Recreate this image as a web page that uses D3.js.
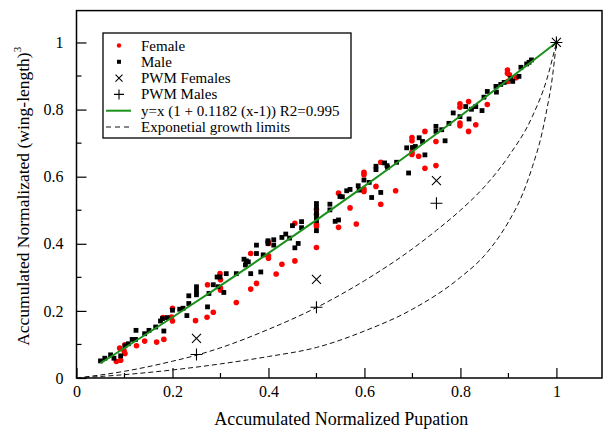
<!DOCTYPE html>
<html>
<head>
<meta charset="utf-8">
<script src="https://cdn.jsdelivr.net/npm/d3@7"></script>
<style>
  body { margin: 0; background: #fff; }
  text { font-family: "Liberation Serif", "Times New Roman", serif; fill: #000; }
</style>
</head>
<body>
<script>
// values

const femaleX = [0.083,0.092,0.090,0.099,0.101,0.101,0.125,0.142,0.167,0.182,0.180,0.198,0.200,0.200,
  0.248,0.272,0.285,0.273,0.299,0.300,0.300,0.300,0.333,0.363,0.363,0.375,0.399,0.400,0.400,0.400,0.416,0.428,
  0.455,0.455,0.500,0.500,0.500,0.500,0.500,0.546,0.546,0.570,0.583,
  0.599,0.599,0.599,0.599,0.624,0.634,0.634,0.665,
  0.699,0.699,0.699,0.699,0.713,0.726,0.726,0.749,0.749,0.799,0.799,0.799,0.799,0.817,0.817,
  0.832,0.856,0.898,0.898,0.899,0.902,0.916];
const femaleY = [0.049,0.053,0.089,0.081,0.073,0.099,0.096,0.110,0.107,0.115,0.180,0.182,0.170,0.208,
  0.171,0.181,0.196,0.278,0.311,0.293,0.268,0.262,0.225,0.371,0.265,0.282,0.407,0.401,0.364,0.357,0.310,0.339,
  0.461,0.349,0.503,0.488,0.458,0.452,0.389,0.449,0.551,0.507,0.459,
  0.613,0.606,0.563,0.556,0.571,0.643,0.518,0.558,
  0.717,0.707,0.673,0.666,0.661,0.735,0.625,0.705,0.633,0.817,0.807,0.760,0.752,0.824,0.735,
  0.755,0.815,0.918,0.908,0.884,0.904,0.895];

const maleX = [0.050,0.059,0.071,0.078,0.092,0.101,0.108,0.116,0.124,0.123,0.142,0.151,0.165,0.175,0.179,0.182,0.189,0.200,
  0.215,0.222,0.230,0.234,0.234,0.250,0.250,0.250,0.273,0.276,0.285,0.293,0.299,0.295,0.307,0.312,0.333,0.349,0.354,0.352,0.358,
  0.363,0.375,0.375,0.384,0.389,0.399,0.399,0.411,0.411,0.428,0.436,
  0.444,0.455,0.462,0.450,0.469,0.469,0.500,0.500,0.500,0.500,0.500,0.500,0.528,0.528,0.539,0.546,0.549,0.554,0.563,0.570,0.587,0.589,
  0.599,0.610,0.615,0.624,0.624,0.634,0.642,0.647,0.648,0.667,0.692,0.688,0.700,0.706,0.714,0.721,0.726,0.749,0.749,0.761,0.768,0.776,0.785,
  0.799,0.811,0.818,0.823,0.832,0.845,0.849,0.856,0.874,0.875,0.884,0.891,0.905,0.909,0.922,0.926,0.938,0.943,0.948];
const maleY = [0.051,0.059,0.069,0.059,0.066,0.096,0.102,0.115,0.142,0.115,0.132,0.142,0.152,0.170,0.177,0.140,0.180,0.202,
  0.205,0.208,0.186,0.245,0.222,0.272,0.258,0.248,0.212,0.252,0.278,0.301,0.301,0.272,0.255,0.311,0.311,0.354,0.349,0.337,0.346,
  0.311,0.396,0.371,0.316,0.367,0.409,0.401,0.412,0.396,0.419,0.429,
  0.417,0.388,0.401,0.454,0.466,0.448,0.520,0.508,0.493,0.481,0.469,0.439,0.518,0.501,0.467,0.471,0.541,0.540,0.558,0.562,0.573,0.560,
  0.590,0.583,0.538,0.631,0.621,0.553,0.641,0.633,0.628,0.643,0.611,0.686,0.687,0.690,0.716,0.705,0.665,0.750,0.735,0.740,0.707,0.759,0.790,
  0.779,0.809,0.772,0.801,0.809,0.797,0.837,0.854,0.869,0.852,0.875,0.881,0.893,0.884,0.899,0.926,0.936,0.941,0.948];

const pwmFemX = [0.25, 0.5, 0.75, 1];
const pwmFemY = [0.118, 0.294, 0.588, 1];
const pwmMaleX = [0.25, 0.5, 0.75, 1];
const pwmMaleY = [0.070, 0.211, 0.521, 1];

const fitX = [0.05, 0.2, 0.4, 0.6, 0.8, 1];
const fitY = [0.044, 0.181, 0.372, 0.572, 0.781, 1];

const limHighX = [0, 0.1, 0.2, 0.25, 0.3, 0.4, 0.5, 0.6, 0.7, 0.75, 0.8, 0.85, 0.9, 0.95, 0.98, 1];
const limHighY = [0, 0.02, 0.05, 0.068, 0.09, 0.145, 0.21, 0.29, 0.385, 0.44, 0.5, 0.57, 0.66, 0.78, 0.89, 1];
const limLowX = [0, 0.1, 0.2, 0.3, 0.4, 0.5, 0.6, 0.7, 0.8, 0.85, 0.88, 0.9, 0.93, 0.95, 0.97, 0.98, 0.99, 1];
const limLowY = [0, 0.01, 0.024, 0.042, 0.064, 0.091, 0.14, 0.205, 0.3, 0.365, 0.42, 0.465, 0.55, 0.63, 0.73, 0.8, 0.88, 1];

const xTicks = [0, 0.2, 0.4, 0.6, 0.8, 1];
const yTicks = [0, 0.2, 0.4, 0.6, 0.8, 1];
const minorTicks = [0.1, 0.3, 0.5, 0.7, 0.9];

const legendLabels = ["Female", "Male", "PWM Females", "PWM Males",
  "y=x (1 + 0.1182 (x-1))  R2=0.995", "Exponetial growth limits"];

const W = 606, H = 431;
const svg = d3.select("body").append("svg")
  .attr("width", W)
  .attr("height", H);

const x = d3.scaleLinear().domain([0, 1.095]).range([76.5, 602]);
const y = d3.scaleLinear().domain([0, 1.095]).range([378, 10.6]);

const zip = (a, b) => a.map((v, i) => [v, b[i]]);

// axes, ticks pointing inwards
const xAxis = d3.axisBottom(x).tickValues(xTicks).tickSize(-10).tickPadding(8)
  .tickFormat(d => d3.format("")(d));
const yAxis = d3.axisLeft(y).tickValues(yTicks).tickSize(-10).tickPadding(13)
  .tickFormat(d => d3.format("")(d));

const gx = svg.append("g").attr("transform", `translate(0,${y(0)})`).call(xAxis);
const gy = svg.append("g").attr("transform", `translate(${x(0)},0)`).call(yAxis);
[gx, gy].forEach(g => {
  g.select(".domain").remove();
  g.selectAll("line").attr("stroke", "#000").attr("stroke-width", 1.2);
  g.selectAll("text").style("font-family", "Liberation Serif").attr("font-size", 16);
});

svg.append("g").selectAll("line").data(minorTicks).enter().append("line")
  .attr("x1", d => x(d)).attr("x2", d => x(d))
  .attr("y1", y(0)).attr("y2", y(0) - 5)
  .attr("stroke", "#000").attr("stroke-width", 1.2);
svg.append("g").selectAll("line").data(minorTicks).enter().append("line")
  .attr("y1", d => y(d)).attr("y2", d => y(d))
  .attr("x1", x(0)).attr("x2", x(0) + 5)
  .attr("stroke", "#000").attr("stroke-width", 1.2);

// frame
svg.append("rect")
  .attr("x", x(0)).attr("y", y(1.095))
  .attr("width", x(1.095) - x(0)).attr("height", y(0) - y(1.095))
  .attr("fill", "none").attr("stroke", "#000").attr("stroke-width", 1.5);

// axis titles
svg.append("text")
  .attr("x", (x(0) + x(1.095)) / 2 + 2).attr("y", 425)
  .attr("text-anchor", "middle").attr("font-size", 18)
  .text("Accumulated Normalized Pupation");

const yt = svg.append("text")
  .attr("transform", `translate(29,${(y(0) + y(1.095)) / 2 + 2}) rotate(-90)`)
  .attr("text-anchor", "middle").attr("font-size", 17.5);
yt.append("tspan").text("Accumulated Normalizated (wing-length)");
yt.append("tspan").attr("font-size", 11).attr("dy", -8).text("3");

// limit curves
const line = d3.line().x(d => x(d[0])).y(d => y(d[1])).curve(d3.curveMonotoneX);
[zip(limHighX, limHighY), zip(limLowX, limLowY)].forEach(pts => {
  svg.append("path").datum(pts)
    .attr("d", line)
    .attr("fill", "none").attr("stroke", "#111").attr("stroke-width", 1)
    .attr("stroke-dasharray", "5,3");
});

// points
svg.append("g").selectAll("circle").data(zip(femaleX, femaleY)).enter().append("circle")
  .attr("cx", d => x(d[0])).attr("cy", d => y(d[1]))
  .attr("r", 2.8).attr("fill", "#ff0000");

svg.append("g").selectAll("rect").data(zip(maleX, maleY)).enter().append("rect")
  .attr("x", d => x(d[0]) - 2.4).attr("y", d => y(d[1]) - 2.4)
  .attr("width", 4.8).attr("height", 4.8).attr("fill", "#000");

// fitted curve
svg.append("path").datum(zip(fitX, fitY))
  .attr("d", line)
  .attr("fill", "none").attr("stroke", "#1b911b").attr("stroke-width", 2);

// PWM markers
const cross = (g, cx, cy, s) => {
  g.append("path")
    .attr("d", `M${cx - s},${cy - s}L${cx + s},${cy + s}M${cx - s},${cy + s}L${cx + s},${cy - s}`)
    .attr("stroke", "#000").attr("stroke-width", 1.1).attr("fill", "none");
};
const plus = (g, cx, cy, s) => {
  g.append("path")
    .attr("d", `M${cx - s},${cy}L${cx + s},${cy}M${cx},${cy - s}L${cx},${cy + s}`)
    .attr("stroke", "#000").attr("stroke-width", 1.1).attr("fill", "none");
};
const pwm = svg.append("g");
zip(pwmFemX, pwmFemY).forEach(d => cross(pwm, x(d[0]), y(d[1]), 4.5));
zip(pwmMaleX, pwmMaleY).forEach(d => plus(pwm, x(d[0]), y(d[1]), 6));

// legend
const lg = svg.append("g");
lg.append("rect")
  .attr("x", 103).attr("y", 33).attr("width", 248).attr("height", 105)
  .attr("fill", "#fff").attr("stroke", "#000").attr("stroke-width", 1.3);
const rowY = i => 45.5 + i * 16.3;
lg.selectAll("text").data(legendLabels).enter().append("text")
  .attr("x", 141).attr("y", (d, i) => rowY(i) + 5)
  .attr("font-size", 15)
  .text(d => d);
lg.append("circle").attr("cx", 119).attr("cy", rowY(0)).attr("r", 2.2).attr("fill", "#ff0000");
lg.append("rect").attr("x", 117).attr("y", rowY(1) - 2).attr("width", 4).attr("height", 4).attr("fill", "#000");
cross(lg, 119, rowY(2), 3.5);
plus(lg, 119, rowY(3), 5);
lg.append("line").attr("x1", 106).attr("x2", 131).attr("y1", rowY(4)).attr("y2", rowY(4))
  .attr("stroke", "#1b911b").attr("stroke-width", 2);
lg.append("line").attr("x1", 106).attr("x2", 131).attr("y1", rowY(5)).attr("y2", rowY(5))
  .attr("stroke", "#111").attr("stroke-width", 1).attr("stroke-dasharray", "5,4");
</script>
</body>
</html>
